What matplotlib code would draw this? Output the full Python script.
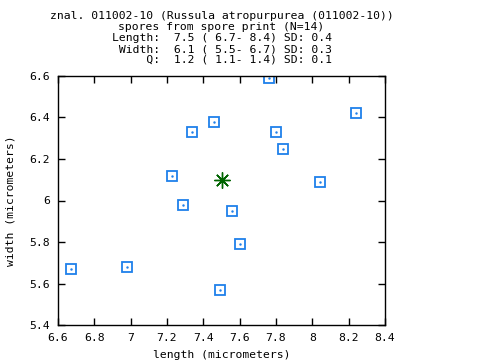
import matplotlib
matplotlib.use('Agg')
import matplotlib.pyplot as plt

# spore measurements (micrometers)
length = [7.76, 8.24, 7.46, 7.34, 7.80, 7.84, 7.23, 8.04, 7.29, 7.56, 7.60, 6.67, 6.98, 7.49]
width = [6.59, 6.42, 6.38, 6.33, 6.33, 6.25, 6.12, 6.09, 5.98, 5.95, 5.79, 5.67, 5.68, 5.57]
mean_length = 7.5
mean_width = 6.1

x_ticks = [6.6, 6.8, 7.0, 7.2, 7.4, 7.6, 7.8, 8.0, 8.2, 8.4]
x_labels = ['6.6', '6.8', '7', '7.2', '7.4', '7.6', '7.8', '8', '8.2', '8.4']
y_ticks = [5.4, 5.6, 5.8, 6.0, 6.2, 6.4, 6.6]
y_labels = ['5.4', '5.6', '5.8', '6', '6.2', '6.4', '6.6']

title_lines = [
    'znal. 011002-10 (Russula atropurpurea (011002-10))',
    'spores from spore print (N=14)',
    'Length:  7.5 ( 6.7- 8.4) SD: 0.4',
    ' Width:  6.1 ( 5.5- 6.7) SD: 0.3',
    '     Q:  1.2 ( 1.1- 1.4) SD: 0.1',
]

plt.rcParams['font.family'] = 'DejaVu Sans Mono'
fs = 8.2

fig = plt.figure(figsize=(4.8, 3.6), dpi=100)
ax = fig.add_axes([58/480, 35/360, 327/480, 249/360])

blue = '#1f80ea'
ax.plot(length, width, linestyle='none', marker='s', markersize=7.4,
        markerfacecolor='none', markeredgecolor=blue, markeredgewidth=1.3)
ax.plot(length, width, linestyle='none', marker='.', markersize=1.5, color=blue)
ax.plot([mean_length], [mean_width], linestyle='none', marker=(8, 2, 0),
        markersize=11.5, color='#006400', markeredgewidth=1.0)
ax.plot([mean_length], [mean_width], linestyle='none', marker='o',
        markersize=3, color='#006400')

ax.set_xlim(6.6, 8.4)
ax.set_ylim(5.4, 6.6)
ax.set_xticks(x_ticks)
ax.set_xticklabels(x_labels)
ax.set_yticks(y_ticks)
ax.set_yticklabels(y_labels)
ax.tick_params(direction='in', length=5, width=1, top=True, right=True,
               labelsize=fs, pad=6)
for s in ax.spines.values():
    s.set_linewidth(1)

ax.set_xlabel('length (micrometers)', fontsize=fs, labelpad=5)
ax.set_ylabel('width (micrometers)', fontsize=fs, labelpad=10)

for i, line in enumerate(title_lines):
    fig.text(221.5/480, 1 - (16 + 11*i)/360, line, ha='center', va='center', fontsize=fs)

fig.savefig('out.png', dpi=100)
